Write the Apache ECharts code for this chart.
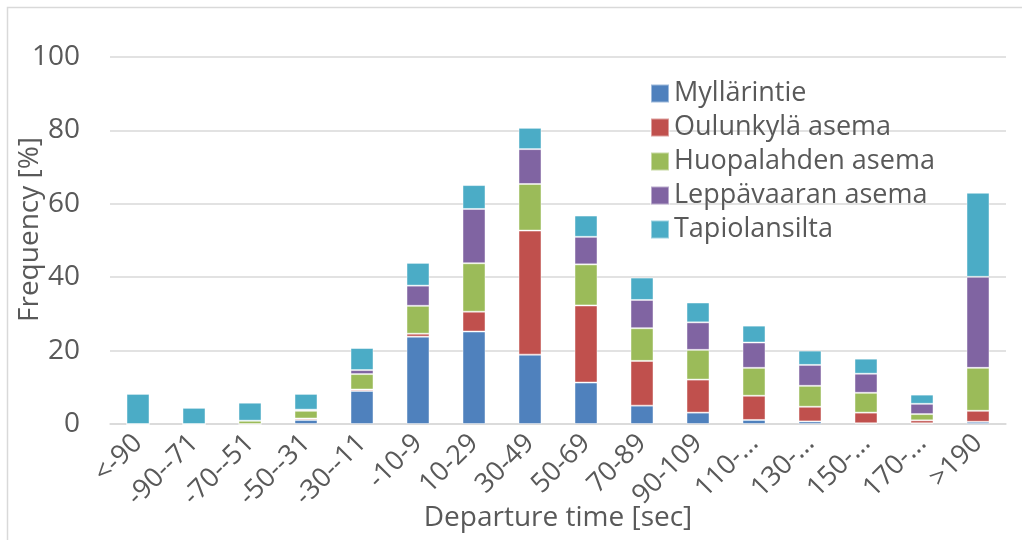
<!DOCTYPE html>
<html>
<head>
<meta charset="utf-8">
<script src="https://cdn.jsdelivr.net/npm/echarts@6/dist/echarts.min.js"></script>
<style>html,body{margin:0;padding:0;background:#fff;}#c{width:1022px;height:540px;}</style>
</head>
<body>
<div id="c"></div>
<script>
var categories = ['<-90','-90--71','-70--51','-50--31','-30--11','-10-9','10-29','30-49','50-69','70-89','90-109','110-...','130-...','150-...','170-...','>190'];
var seriesNames = ['Myllärintie','Oulunkylä asema','Huopalahden asema','Leppävaaran asema','Tapiolansilta'];
var myllarintie = [0, 0, 0, 1.1, 9.0, 23.8, 25.2, 18.9, 11.3, 5.0, 3.1, 1.1, 0.7, 0.2, 0.2, 0.6];
var oulunkyla   = [0, 0, 0, 0.4, 0.4, 0.8, 5.4, 33.8, 21.0, 12.2, 9.0, 6.6, 4.0, 2.9, 0.8, 3.0];
var huopalahti  = [0, 0, 0.9, 2.1, 4.2, 7.6, 13.2, 12.7, 11.2, 8.9, 8.1, 7.6, 5.7, 5.4, 1.7, 11.7];
var leppavaara  = [0, 0, 0, 0.3, 1.1, 5.5, 14.8, 9.5, 7.5, 7.7, 7.5, 6.9, 5.7, 5.2, 2.8, 24.8];
var tapiola     = [8.2, 4.4, 4.9, 4.3, 6.0, 6.2, 6.5, 5.8, 5.8, 6.1, 5.4, 4.6, 3.9, 4.1, 2.5, 22.9];
var yTicks = [0, 20, 40, 60, 80, 100];

var colors = ['#4F81BD','#C0504D','#9BBB59','#8064A2','#4BACC6'];
var allData = [myllarintie, oulunkyla, huopalahti, leppavaara, tapiola];
var FONT = '"Open Sans", sans-serif';
var TXT = '#595959';

var chart = echarts.init(document.getElementById('c'), null, {renderer: 'canvas'});
chart.setOption({
  animation: false,
  backgroundColor: '#fff',
  color: colors,
  textStyle: {fontFamily: FONT},
  graphic: [{
    type: 'rect', left: 5, top: 5, silent: true,
    shape: {x: 0.5, y: 0.5, width: 1100, height: 600},
    style: {fill: 'none', stroke: '#D9D9D9', lineWidth: 1.5}
  }],
  grid: {left: 110, right: 16, top: 57, bottom: 116, containLabel: false, outerBoundsMode: 'none'},
  legend: {
    orient: 'vertical', left: 650, top: 80, padding: 0,
    itemWidth: 18, itemHeight: 18, itemGap: 7,
    icon: 'rect',
    data: seriesNames,
    textStyle: {fontFamily: FONT, fontSize: 27, color: TXT, lineHeight: 27}
  },
  xAxis: {
    type: 'category',
    data: categories,
    name: 'Departure time [sec]',
    nameLocation: 'middle',
    nameMoveOverlap: false,
    nameGap: 80,
    nameTextStyle: {fontFamily: FONT, fontSize: 28, color: TXT},
    axisLine: {lineStyle: {color: '#D9D9D9', width: 1.5}},
    axisTick: {show: false},
    axisLabel: {interval: 0, rotate: 45, fontFamily: FONT, fontSize: 27, color: TXT, margin: 15, hideOverlap: false}
  },
  yAxis: {
    type: 'value',
    min: yTicks[0], max: yTicks[yTicks.length - 1], interval: 20,
    name: 'Frequency [%]',
    nameLocation: 'middle',
    nameMoveOverlap: false,
    nameGap: 66,
    nameTextStyle: {fontFamily: FONT, fontSize: 28, color: TXT, padding: [0,0,0,22]},
    axisLine: {show: false},
    axisTick: {show: false},
    axisLabel: {fontFamily: FONT, fontSize: 28, color: TXT, margin: 30},
    splitLine: {lineStyle: {color: '#D9D9D9', width: 1.5}}
  },
  series: seriesNames.map(function (n, i) {
    return {
      name: n, type: 'bar', stack: 'total', barWidth: 23,
      data: allData[i],
      itemStyle: {color: colors[i], borderColor: 'rgba(255,255,255,0.45)', borderWidth: 1}
    };
  })
});
</script>
</body>
</html>
